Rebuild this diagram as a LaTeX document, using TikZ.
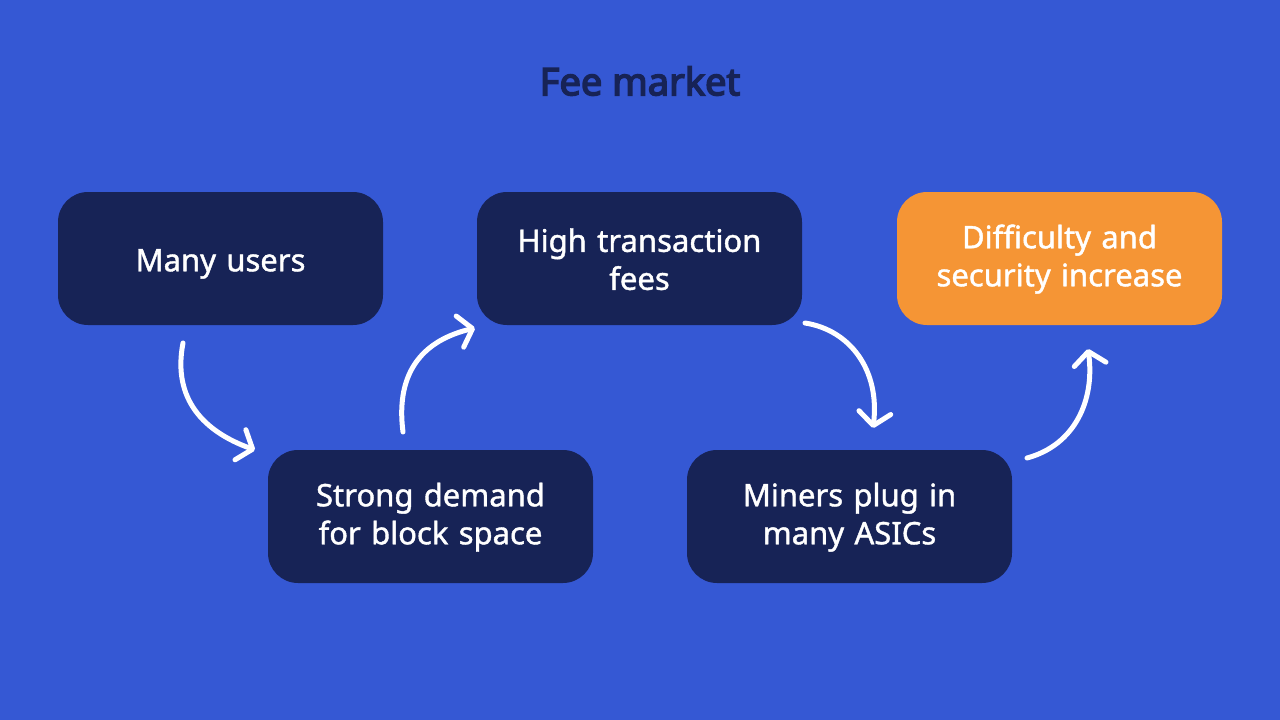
\documentclass[tikz,border=0pt]{standalone}
\usepackage{fontspec}
\setmainfont{Noto Sans}
\newfontfamily\medfont{Noto Sans}[FakeBold=1.3]
\newfontfamily\titlefont{Noto Sans}[FakeBold=4]
\usetikzlibrary{arrows.meta}
\definecolor{bg}{HTML}{3558D4}
\definecolor{darkbox}{HTML}{172356}
\definecolor{orangebox}{HTML}{F59535}
\begin{document}
\begin{tikzpicture}[x=1pt,y=-1pt,
  stepbox/.style={rounded corners=30pt, minimum width=325pt, minimum height=133pt,
    text width=315pt, align=center, font=\medfont\fontsize{31}{38}\selectfont, text=white, inner sep=0pt},
  darkstep/.style={stepbox, fill=darkbox},
  orangestep/.style={stepbox, fill=orangebox},
  flow/.style={draw=white, line width=5pt, line cap=round,
    -{Straight Barb[length=13pt, width=32pt, round]}}]
\fill[bg] (0,0) rectangle (1280,720);
\useasboundingbox (0,0) rectangle (1280,720);
\node[font=\titlefont\fontsize{38}{40}\selectfont, text=darkbox] (title) at (640,81) {Fee market};
\node[darkstep] (n1) at (220.5,258.5) {\rule{0pt}{33pt}Many users};
\node[darkstep] (n2) at (430.5,516.5) {\rule{0pt}{25pt}Strong demand\\for block space};
\node[darkstep] (n3) at (639.5,258.5) {\rule{0pt}{25pt}High transaction\\fees};
\node[darkstep] (n4) at (849.5,516.5) {\rule{0pt}{25pt}Miners plug in\\many ASICs};
\node[orangestep] (n5) at (1059.5,258.5) {\rule{0pt}{25pt}Difficulty and\\security increase};
\coordinate (a1s) at (183,343);
\coordinate (a1e) at (255,450);
\coordinate (a2s) at (403,432);
\coordinate (a2e) at (475,328);
\coordinate (a3s) at (805,323);
\coordinate (a3e) at (873,428);
\coordinate (a4s) at (1027,458);
\coordinate (a4e) at (1088,349);
\draw[flow] (a1s) .. controls (172,400) and (205,432) .. (a1e);
\draw[flow] (a2s) .. controls (395,370) and (425,340) .. (a2e);
\draw[flow] (a3s) .. controls (850,330) and (880,370) .. (a3e);
\draw[flow] (a4s) .. controls (1075,445) and (1095,400) .. (a4e);
\end{tikzpicture}
\end{document}
